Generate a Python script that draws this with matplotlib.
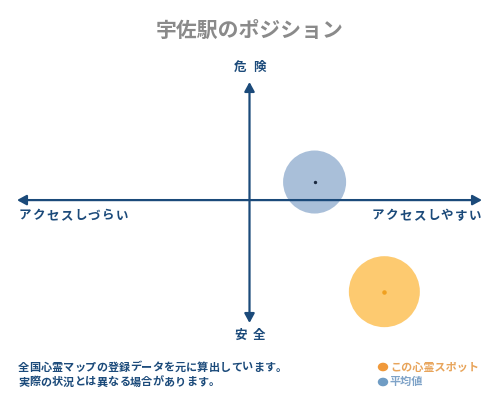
import matplotlib
matplotlib.use("Agg")
import matplotlib.pyplot as plt

plt.rcParams["font.family"] = ["Noto Sans CJK JP", "DejaVu Sans"]

# ---- data ----
title = "宇佐駅のポジション"
label_top = "危険"
label_bottom = "安全"
label_left = "アクセスしづらい"
label_right = "アクセスしやすい"
notes = ["全国心霊マップの登録データを元に算出しています。",
         "実際の状況とは異なる場合があります。"]
series_names = ["この心霊スポット", "平均値"]
spot_x, spot_y = [0.58], [-0.76]      # this spot
avg_x, avg_y = [0.28], [0.15]         # average

navy = "#1b4a7a"
orange_fill = "#fdca70"
orange_dot = "#f0a020"
blue_fill = "#a9bfd9"

W, H = 500, 400
fig = plt.figure(figsize=(5, 4), dpi=100)

def px(x, y):
    return x / W, 1 - y / H

def spaced(x, y, s, pitch, align="left", **kw):
    # draw text char by char with a fixed pitch (letter spacing)
    if align == "right":
        x = x - pitch * len(s)
    elif align == "center":
        x = x - pitch * len(s) / 2
    for i, ch in enumerate(s):
        fig.text(*px(x + pitch * (i + 0.5), y), ch, ha="center", va="center", **kw)

# axes spanning the arrow extents (pixels 17..482 horizontally, 82..323 vertically)
left, right, top, bottom = 17, 482, 82, 323
ax = fig.add_axes([left / W, 1 - bottom / H, (right - left) / W, (bottom - top) / H])
ymax, ymin = 0.98, -1.02
ax.set_xlim(-1, 1)
ax.set_ylim(ymin, ymax)
ax.axis("off")

arrow = dict(arrowstyle="<|-|>,head_length=0.55,head_width=0.3", color=navy,
             lw=1.6, shrinkA=0, shrinkB=0, mutation_scale=10)
ax.annotate("", xy=(1, 0), xytext=(-1, 0), arrowprops=arrow, zorder=5)
ax.annotate("", xy=(0, ymax), xytext=(0, ymin), arrowprops=arrow, zorder=5)

# circles
ax.scatter(avg_x, avg_y, s=2060, color=blue_fill, edgecolors="none", zorder=3, clip_on=False)
ax.scatter(avg_x, avg_y, s=2, color="#1b2a40", zorder=4, clip_on=False)
ax.scatter(spot_x, spot_y, s=2613, color=orange_fill, edgecolors="none", zorder=3, clip_on=False)
ax.scatter(spot_x, spot_y, s=5, color=orange_dot, zorder=4, clip_on=False)

# texts
fig.text(*px(250, 30), title, ha="center", va="center", fontsize=15,
         color="#8a8a8a", fontweight="bold")
spaced(250, 67, label_top, 19, align="center", fontsize=9, color=navy, fontweight="bold")
spaced(250, 335, label_bottom, 19, align="center", fontsize=9, color=navy, fontweight="bold")
spaced(18, 216, label_left, 13.8, fontsize=9, color=navy, fontweight="bold")
spaced(482, 216, label_right, 13.9, align="right", fontsize=9, color=navy,
       fontweight="bold")

for i, line in enumerate(notes):
    spaced(18, 367 + 15 * i, line, 11.2, fontsize=8, color=navy, fontweight="bold")

# legend
leg_colors = ["#f0993a", "#6f9cc4"]
leg_text_colors = ["#e8a45a", "#7fa3c8"]
for i, name in enumerate(series_names):
    y = 367 + 15 * i
    fig.patches.append(plt.Circle(px(383, y), 4.5 / W, transform=fig.transFigure,
                                  color=leg_colors[i]))
    fig.text(*px(390, y), name, ha="left", va="center", fontsize=8,
             color=leg_text_colors[i], fontweight="bold")

fig.savefig("out.png", dpi=100, facecolor="white")
